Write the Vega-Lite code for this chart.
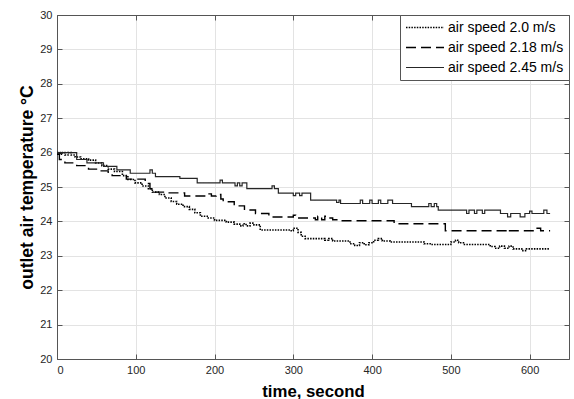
{
  "$schema": "https://vega.github.io/schema/vega-lite/v6.json",
  "autosize": {"type": "none"},
  "width": 512,
  "height": 344,
  "padding": {"left": 57, "top": 15, "right": 5, "bottom": 40},
  "background": "white",
  "config": {
    "view": {"stroke": null},
    "font": "Liberation Sans",
    "axis": {
      "labelFont": "Liberation Sans",
      "labelFontSize": 11,
      "labelColor": "#262626",
      "titleFont": "Liberation Sans",
      "titleFontSize": 16.5,
      "titleFontWeight": "bold",
      "titleColor": "#000000",
      "domainColor": "#555555",
      "tickColor": "#555555",
      "gridColor": "#e3e3e3",
      "tickSize": -5
    }
  },
  "datasets": {
    "temps": [
      {"series": "air speed 2.0 m/s", "time": 0, "temp": 26.0},
      {"series": "air speed 2.0 m/s", "time": 4, "temp": 25.95},
      {"series": "air speed 2.0 m/s", "time": 7, "temp": 26.0},
      {"series": "air speed 2.0 m/s", "time": 10, "temp": 25.93},
      {"series": "air speed 2.0 m/s", "time": 14, "temp": 26.0},
      {"series": "air speed 2.0 m/s", "time": 18, "temp": 25.93},
      {"series": "air speed 2.0 m/s", "time": 23, "temp": 25.87},
      {"series": "air speed 2.0 m/s", "time": 30, "temp": 25.82},
      {"series": "air speed 2.0 m/s", "time": 40, "temp": 25.78},
      {"series": "air speed 2.0 m/s", "time": 49, "temp": 25.7},
      {"series": "air speed 2.0 m/s", "time": 57, "temp": 25.62},
      {"series": "air speed 2.0 m/s", "time": 65, "temp": 25.52},
      {"series": "air speed 2.0 m/s", "time": 73, "temp": 25.45},
      {"series": "air speed 2.0 m/s", "time": 83, "temp": 25.33},
      {"series": "air speed 2.0 m/s", "time": 90, "temp": 25.22},
      {"series": "air speed 2.0 m/s", "time": 99, "temp": 25.12},
      {"series": "air speed 2.0 m/s", "time": 108, "temp": 25.03},
      {"series": "air speed 2.0 m/s", "time": 116, "temp": 24.95},
      {"series": "air speed 2.0 m/s", "time": 121, "temp": 24.85},
      {"series": "air speed 2.0 m/s", "time": 130, "temp": 24.78},
      {"series": "air speed 2.0 m/s", "time": 137, "temp": 24.68},
      {"series": "air speed 2.0 m/s", "time": 145, "temp": 24.58},
      {"series": "air speed 2.0 m/s", "time": 152, "temp": 24.5},
      {"series": "air speed 2.0 m/s", "time": 160, "temp": 24.43},
      {"series": "air speed 2.0 m/s", "time": 168, "temp": 24.35},
      {"series": "air speed 2.0 m/s", "time": 175, "temp": 24.25},
      {"series": "air speed 2.0 m/s", "time": 182, "temp": 24.15},
      {"series": "air speed 2.0 m/s", "time": 192, "temp": 24.1},
      {"series": "air speed 2.0 m/s", "time": 200, "temp": 24.03},
      {"series": "air speed 2.0 m/s", "time": 215, "temp": 23.98},
      {"series": "air speed 2.0 m/s", "time": 225, "temp": 23.92},
      {"series": "air speed 2.0 m/s", "time": 232, "temp": 23.87},
      {"series": "air speed 2.0 m/s", "time": 236, "temp": 23.93},
      {"series": "air speed 2.0 m/s", "time": 240, "temp": 23.87},
      {"series": "air speed 2.0 m/s", "time": 245, "temp": 23.95},
      {"series": "air speed 2.0 m/s", "time": 250, "temp": 23.9},
      {"series": "air speed 2.0 m/s", "time": 258, "temp": 23.75},
      {"series": "air speed 2.0 m/s", "time": 296, "temp": 23.73},
      {"series": "air speed 2.0 m/s", "time": 300, "temp": 23.8},
      {"series": "air speed 2.0 m/s", "time": 306, "temp": 23.68},
      {"series": "air speed 2.0 m/s", "time": 310, "temp": 23.57},
      {"series": "air speed 2.0 m/s", "time": 315, "temp": 23.5},
      {"series": "air speed 2.0 m/s", "time": 340, "temp": 23.45},
      {"series": "air speed 2.0 m/s", "time": 345, "temp": 23.5},
      {"series": "air speed 2.0 m/s", "time": 350, "temp": 23.43},
      {"series": "air speed 2.0 m/s", "time": 372, "temp": 23.35},
      {"series": "air speed 2.0 m/s", "time": 378, "temp": 23.3},
      {"series": "air speed 2.0 m/s", "time": 384, "temp": 23.38},
      {"series": "air speed 2.0 m/s", "time": 390, "temp": 23.32},
      {"series": "air speed 2.0 m/s", "time": 396, "temp": 23.38},
      {"series": "air speed 2.0 m/s", "time": 402, "temp": 23.45},
      {"series": "air speed 2.0 m/s", "time": 408, "temp": 23.5},
      {"series": "air speed 2.0 m/s", "time": 413, "temp": 23.43},
      {"series": "air speed 2.0 m/s", "time": 423, "temp": 23.4},
      {"series": "air speed 2.0 m/s", "time": 466, "temp": 23.35},
      {"series": "air speed 2.0 m/s", "time": 475, "temp": 23.33},
      {"series": "air speed 2.0 m/s", "time": 500, "temp": 23.4},
      {"series": "air speed 2.0 m/s", "time": 506, "temp": 23.45},
      {"series": "air speed 2.0 m/s", "time": 510, "temp": 23.38},
      {"series": "air speed 2.0 m/s", "time": 516, "temp": 23.33},
      {"series": "air speed 2.0 m/s", "time": 550, "temp": 23.27},
      {"series": "air speed 2.0 m/s", "time": 556, "temp": 23.22},
      {"series": "air speed 2.0 m/s", "time": 562, "temp": 23.28},
      {"series": "air speed 2.0 m/s", "time": 568, "temp": 23.22},
      {"series": "air speed 2.0 m/s", "time": 574, "temp": 23.28},
      {"series": "air speed 2.0 m/s", "time": 579, "temp": 23.2},
      {"series": "air speed 2.0 m/s", "time": 590, "temp": 23.15},
      {"series": "air speed 2.0 m/s", "time": 596, "temp": 23.2},
      {"series": "air speed 2.0 m/s", "time": 626, "temp": 23.2},

      {"series": "air speed 2.18 m/s", "time": 0, "temp": 25.95},
      {"series": "air speed 2.18 m/s", "time": 3, "temp": 25.8},
      {"series": "air speed 2.18 m/s", "time": 10, "temp": 25.7},
      {"series": "air speed 2.18 m/s", "time": 25, "temp": 25.62},
      {"series": "air speed 2.18 m/s", "time": 40, "temp": 25.52},
      {"series": "air speed 2.18 m/s", "time": 55, "temp": 25.47},
      {"series": "air speed 2.18 m/s", "time": 65, "temp": 25.4},
      {"series": "air speed 2.18 m/s", "time": 70, "temp": 25.33},
      {"series": "air speed 2.18 m/s", "time": 88, "temp": 25.23},
      {"series": "air speed 2.18 m/s", "time": 112, "temp": 25.1},
      {"series": "air speed 2.18 m/s", "time": 118, "temp": 24.95},
      {"series": "air speed 2.18 m/s", "time": 124, "temp": 24.85},
      {"series": "air speed 2.18 m/s", "time": 140, "temp": 24.83},
      {"series": "air speed 2.18 m/s", "time": 162, "temp": 24.74},
      {"series": "air speed 2.18 m/s", "time": 190, "temp": 24.8},
      {"series": "air speed 2.18 m/s", "time": 196, "temp": 24.74},
      {"series": "air speed 2.18 m/s", "time": 202, "temp": 24.78},
      {"series": "air speed 2.18 m/s", "time": 208, "temp": 24.65},
      {"series": "air speed 2.18 m/s", "time": 211, "temp": 24.57},
      {"series": "air speed 2.18 m/s", "time": 225, "temp": 24.45},
      {"series": "air speed 2.18 m/s", "time": 238, "temp": 24.33},
      {"series": "air speed 2.18 m/s", "time": 252, "temp": 24.23},
      {"series": "air speed 2.18 m/s", "time": 269, "temp": 24.13},
      {"series": "air speed 2.18 m/s", "time": 300, "temp": 24.18},
      {"series": "air speed 2.18 m/s", "time": 303, "temp": 24.1},
      {"series": "air speed 2.18 m/s", "time": 328, "temp": 24.05},
      {"series": "air speed 2.18 m/s", "time": 331, "temp": 24.15},
      {"series": "air speed 2.18 m/s", "time": 336, "temp": 24.05},
      {"series": "air speed 2.18 m/s", "time": 340, "temp": 24.15},
      {"series": "air speed 2.18 m/s", "time": 344, "temp": 24.1},
      {"series": "air speed 2.18 m/s", "time": 350, "temp": 24.05},
      {"series": "air speed 2.18 m/s", "time": 357, "temp": 24.02},
      {"series": "air speed 2.18 m/s", "time": 428, "temp": 23.93},
      {"series": "air speed 2.18 m/s", "time": 493, "temp": 23.73},
      {"series": "air speed 2.18 m/s", "time": 570, "temp": 23.77},
      {"series": "air speed 2.18 m/s", "time": 573, "temp": 23.73},
      {"series": "air speed 2.18 m/s", "time": 606, "temp": 23.8},
      {"series": "air speed 2.18 m/s", "time": 614, "temp": 23.73},
      {"series": "air speed 2.18 m/s", "time": 626, "temp": 23.73},

      {"series": "air speed 2.45 m/s", "time": 0, "temp": 26.0},
      {"series": "air speed 2.45 m/s", "time": 25, "temp": 25.8},
      {"series": "air speed 2.45 m/s", "time": 38, "temp": 25.7},
      {"series": "air speed 2.45 m/s", "time": 59, "temp": 25.6},
      {"series": "air speed 2.45 m/s", "time": 76, "temp": 25.5},
      {"series": "air speed 2.45 m/s", "time": 93, "temp": 25.4},
      {"series": "air speed 2.45 m/s", "time": 118, "temp": 25.5},
      {"series": "air speed 2.45 m/s", "time": 121, "temp": 25.4},
      {"series": "air speed 2.45 m/s", "time": 125, "temp": 25.3},
      {"series": "air speed 2.45 m/s", "time": 156, "temp": 25.25},
      {"series": "air speed 2.45 m/s", "time": 178, "temp": 25.12},
      {"series": "air speed 2.45 m/s", "time": 207, "temp": 25.2},
      {"series": "air speed 2.45 m/s", "time": 210, "temp": 25.12},
      {"series": "air speed 2.45 m/s", "time": 226, "temp": 25.03},
      {"series": "air speed 2.45 m/s", "time": 229, "temp": 25.12},
      {"series": "air speed 2.45 m/s", "time": 232, "temp": 25.03},
      {"series": "air speed 2.45 m/s", "time": 235, "temp": 25.12},
      {"series": "air speed 2.45 m/s", "time": 241, "temp": 24.95},
      {"series": "air speed 2.45 m/s", "time": 273, "temp": 25.03},
      {"series": "air speed 2.45 m/s", "time": 276, "temp": 24.95},
      {"series": "air speed 2.45 m/s", "time": 281, "temp": 24.82},
      {"series": "air speed 2.45 m/s", "time": 300, "temp": 24.75},
      {"series": "air speed 2.45 m/s", "time": 303, "temp": 24.82},
      {"series": "air speed 2.45 m/s", "time": 308, "temp": 24.75},
      {"series": "air speed 2.45 m/s", "time": 311, "temp": 24.82},
      {"series": "air speed 2.45 m/s", "time": 322, "temp": 24.62},
      {"series": "air speed 2.45 m/s", "time": 355, "temp": 24.55},
      {"series": "air speed 2.45 m/s", "time": 358, "temp": 24.62},
      {"series": "air speed 2.45 m/s", "time": 360, "temp": 24.52},
      {"series": "air speed 2.45 m/s", "time": 385, "temp": 24.62},
      {"series": "air speed 2.45 m/s", "time": 388, "temp": 24.52},
      {"series": "air speed 2.45 m/s", "time": 397, "temp": 24.62},
      {"series": "air speed 2.45 m/s", "time": 400, "temp": 24.52},
      {"series": "air speed 2.45 m/s", "time": 408, "temp": 24.62},
      {"series": "air speed 2.45 m/s", "time": 411, "temp": 24.52},
      {"series": "air speed 2.45 m/s", "time": 420, "temp": 24.62},
      {"series": "air speed 2.45 m/s", "time": 426, "temp": 24.52},
      {"series": "air speed 2.45 m/s", "time": 450, "temp": 24.43},
      {"series": "air speed 2.45 m/s", "time": 472, "temp": 24.52},
      {"series": "air speed 2.45 m/s", "time": 475, "temp": 24.43},
      {"series": "air speed 2.45 m/s", "time": 479, "temp": 24.52},
      {"series": "air speed 2.45 m/s", "time": 482, "temp": 24.43},
      {"series": "air speed 2.45 m/s", "time": 484, "temp": 24.33},
      {"series": "air speed 2.45 m/s", "time": 520, "temp": 24.23},
      {"series": "air speed 2.45 m/s", "time": 523, "temp": 24.33},
      {"series": "air speed 2.45 m/s", "time": 530, "temp": 24.23},
      {"series": "air speed 2.45 m/s", "time": 533, "temp": 24.33},
      {"series": "air speed 2.45 m/s", "time": 540, "temp": 24.23},
      {"series": "air speed 2.45 m/s", "time": 543, "temp": 24.33},
      {"series": "air speed 2.45 m/s", "time": 563, "temp": 24.23},
      {"series": "air speed 2.45 m/s", "time": 572, "temp": 24.13},
      {"series": "air speed 2.45 m/s", "time": 576, "temp": 24.23},
      {"series": "air speed 2.45 m/s", "time": 588, "temp": 24.13},
      {"series": "air speed 2.45 m/s", "time": 594, "temp": 24.23},
      {"series": "air speed 2.45 m/s", "time": 600, "temp": 24.3},
      {"series": "air speed 2.45 m/s", "time": 603, "temp": 24.23},
      {"series": "air speed 2.45 m/s", "time": 618, "temp": 24.33},
      {"series": "air speed 2.45 m/s", "time": 622, "temp": 24.23},
      {"series": "air speed 2.45 m/s", "time": 626, "temp": 24.23}
    ]
  },
  "data": {"name": "temps"},
  "layer": [
    {
      "mark": {"type": "line", "interpolate": "step-after"},
      "encoding": {
        "x": {
          "field": "time", "type": "quantitative",
          "scale": {"domain": [0, 650], "nice": false, "zero": false},
          "axis": {
            "orient": "bottom", "title": "time, second", "values": [0, 100, 200, 300, 400, 500, 600],
            "grid": true, "labelPadding": 10, "titleY": 37, "titleBaseline": "alphabetic", "titleFontSize": 16.8
          }
        },
        "y": {
          "field": "temp", "type": "quantitative",
          "scale": {"domain": [20, 30], "nice": false, "zero": false},
          "axis": {
            "orient": "left", "title": "outlet air temperature °C", "values": [20, 21, 22, 23, 24, 25, 26, 27, 28, 29, 30],
            "grid": true, "labelPadding": 10, "titleX": -30, "titleY": 172, "titleBaseline": "middle", "titleAngle": 270, "titleFontSize": 17.5
          }
        },
        "color": {
          "field": "series", "type": "nominal",
          "scale": {"domain": ["air speed 2.0 m/s", "air speed 2.18 m/s", "air speed 2.45 m/s"], "range": ["#000000", "#000000", "#262626"]}
        },
        "strokeWidth": {
          "field": "series", "type": "nominal",
          "scale": {"domain": ["air speed 2.0 m/s", "air speed 2.18 m/s", "air speed 2.45 m/s"], "range": [1.6, 1.2, 1.0]}
        },
        "strokeDash": {
          "field": "series", "type": "nominal",
          "scale": {"domain": ["air speed 2.0 m/s", "air speed 2.18 m/s", "air speed 2.45 m/s"], "range": [[1.5, 1.2], [10, 5], [1, 0]]},
          "legend": {
            "title": null, "orient": "none", "legendX": 343, "legendY": 0,
            "padding": 5, "strokeColor": "#555555", "fillColor": "#ffffff",
            "symbolType": "stroke", "symbolSize": 1444,
            "clipHeight": 15, "rowPadding": 5, "labelOffset": 3,
            "labelFont": "Liberation Sans", "labelFontSize": 14, "labelColor": "#000000"
          }
        }
      }
    },
    {
      "mark": {"type": "line", "opacity": 0},
      "encoding": {
        "x": {
          "field": "time", "type": "quantitative",
          "axis": {"orient": "top", "title": null, "labels": false, "grid": false, "values": [0, 100, 200, 300, 400, 500, 600]}
        },
        "y": {
          "field": "temp", "type": "quantitative",
          "axis": {"orient": "right", "title": null, "labels": false, "grid": false, "values": [20, 21, 22, 23, 24, 25, 26, 27, 28, 29, 30]}
        },
        "detail": {"field": "series", "type": "nominal"}
      }
    }
  ],
  "resolve": {"axis": {"x": "independent", "y": "independent"}}
}
